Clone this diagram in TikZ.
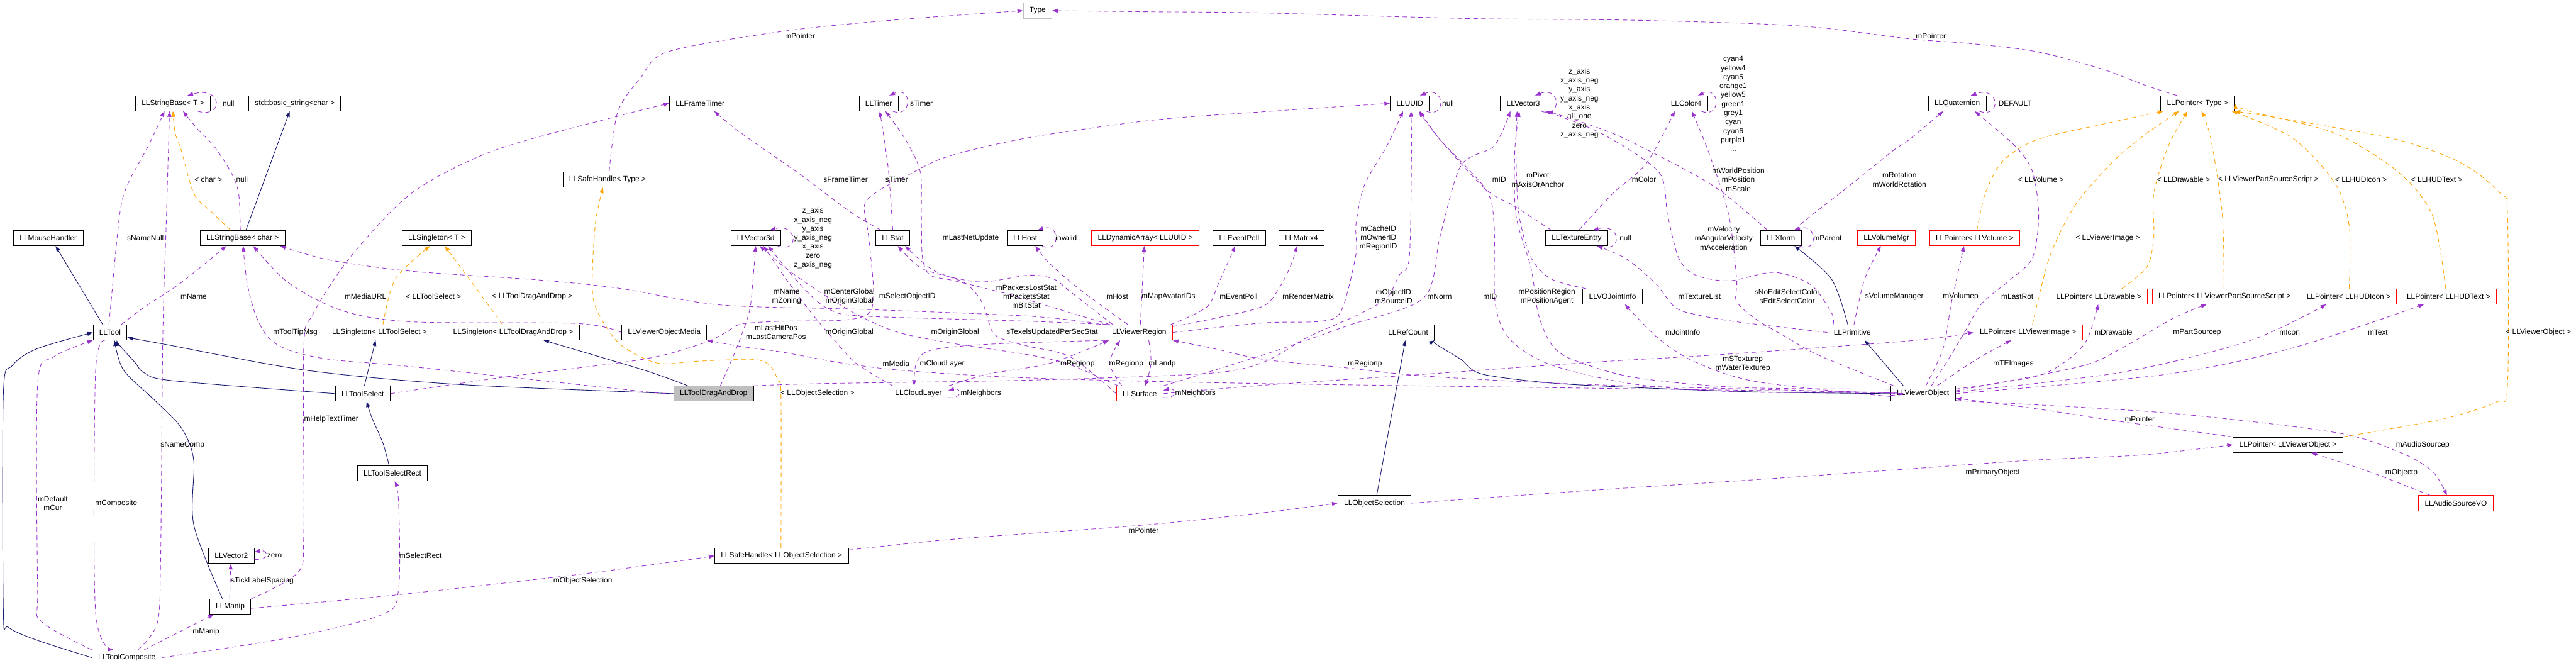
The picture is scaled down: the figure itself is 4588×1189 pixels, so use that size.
\documentclass[tikz,border=0pt]{standalone}
\usepackage{fontspec}
\setmainfont{Liberation Sans}
\usepackage{tikz}
\usetikzlibrary{arrows.meta}
\definecolor{UsePurple}{RGB}{154,50,205}
\definecolor{BaseNavy}{RGB}{25,25,112}
\definecolor{TmplOrange}{RGB}{255,165,0}
\definecolor{RedBox}{RGB}{255,0,0}
\definecolor{GreyBox}{RGB}{191,191,191}

\begin{document}
\begin{tikzpicture}[x=0.2mm,y=-0.2mm,>={Triangle[length=2mm,width=1.4mm]},every node/.style={font=\fontsize{7.6}{9.1}\selectfont}]
\tikzset{cls/.style={draw,fill=white,line width=0.2mm,minimum height=5.4mm,inner xsep=2.2mm,inner ysep=0pt},
redcls/.style={cls,draw=RedBox},
inh/.style={->,BaseNavy,line width=0.2mm},
use/.style={->,UsePurple,line width=0.2mm,dash pattern=on 1.6mm off 1.2mm},
tmpl/.style={->,TmplOrange,line width=0.2mm,dash pattern=on 1.6mm off 1.2mm},
lbl/.style={inner sep=0pt,align=center}}
\path[fill=white,use as bounding box] (0,0) rectangle (4588,1189);
\node[cls,draw=GreyBox] (type) at (1848,19) {Type};
\node[cls] (sbT) at (308,184) {LLStringBase< T >};
\node[cls] (bstr) at (525,184) {std::basic\_string<char >};
\node[cls] (ftimer) at (1247,184) {LLFrameTimer};
\node[cls] (timer) at (1565,184) {LLTimer};
\node[cls] (uuid) at (2511,184) {LLUUID};
\node[cls] (vec3) at (2713,184) {LLVector3};
\node[cls] (col4) at (3003,184) {LLColor4};
\node[cls] (quat) at (3486,184) {LLQuaternion};
\node[cls] (ptrT) at (3914,184) {LLPointer< Type >};
\node[cls] (shT) at (1082,320) {LLSafeHandle< Type >};
\node[cls] (mouse) at (86,424) {LLMouseHandler};
\node[cls] (sbc) at (432,424) {LLStringBase< char >};
\node[cls] (sgT) at (778,424) {LLSingleton< T >};
\node[cls] (vec3d) at (1346,424) {LLVector3d};
\node[cls] (stat) at (1590,424) {LLStat};
\node[cls] (host) at (1826,424) {LLHost};
\node[redcls] (dynarr) at (2040,424) {LLDynamicArray< LLUUID >};
\node[cls] (evpoll) at (2207,424) {LLEventPoll};
\node[cls] (mat4) at (2318,424) {LLMatrix4};
\node[cls] (texent) at (2808,424) {LLTextureEntry};
\node[cls] (xform) at (3172,424) {LLXform};
\node[redcls] (volmgr) at (3360,424) {LLVolumeMgr};
\node[redcls] (ptrVol) at (3517,424) {LLPointer< LLVolume >};
\node[cls] (joint) at (2872,528) {LLVOJointInfo};
\node[redcls] (ptrDraw) at (3738,528) {LLPointer< LLDrawable >};
\node[redcls] (ptrPSS) at (3962,528) {LLPointer< LLViewerPartSourceScript >};
\node[redcls] (ptrIcon) at (4183,528) {LLPointer< LLHUDIcon >};
\node[redcls] (ptrText) at (4361,528) {LLPointer< LLHUDText >};
\node[cls] (tool) at (196,592) {LLTool};
\node[cls] (sgSel) at (676,592) {LLSingleton< LLToolSelect >};
\node[cls] (sgDnD) at (914,592) {LLSingleton< LLToolDragAndDrop >};
\node[cls] (vomedia) at (1183,592) {LLViewerObjectMedia};
\node[redcls] (region) at (2029,592) {LLViewerRegion};
\node[cls] (refc) at (2508,592) {LLRefCount};
\node[cls] (prim) at (3299,592) {LLPrimitive};
\node[redcls] (ptrImg) at (3612,592) {LLPointer< LLViewerImage >};
\node[cls] (tsel) at (646,701) {LLToolSelect};
\node[cls,fill=GreyBox] (dnd) at (1271,701) {LLToolDragAndDrop};
\node[redcls] (cloud) at (1636,701) {LLCloudLayer};
\node[redcls] (surf) at (2030,701) {LLSurface};
\node[cls] (vobj) at (3425,701) {LLViewerObject};
\node[cls] (selrect) at (699,843) {LLToolSelectRect};
\node[cls] (ptrVO) at (4075,792) {LLPointer< LLViewerObject >};
\node[cls] (objsel) at (2448,896) {LLObjectSelection};
\node[redcls] (audio) at (4374,896) {LLAudioSourceVO};
\node[cls] (vec2) at (412,990) {LLVector2};
\node[cls] (shSel) at (1392,990) {LLSafeHandle< LLObjectSelection >};
\node[cls] (manip) at (410,1080) {LLManip};
\node[cls] (comp) at (226,1171) {LLToolComposite};
\draw[inh] (183,0 |- tool.north) -- (99,0 |- mouse.south);
\draw[inh] (438,0 |- sbc.north) -- (516,0 |- bstr.south);
\draw[inh] plot[smooth] coordinates {(tsel.west) (308,678) (257,664) (240,645) (213,615) (208,0 |- tool.south)};
\draw[inh] (649,0 |- tsel.north) -- (669,0 |- sgSel.south);
\draw[inh] plot[smooth] coordinates {(693,0 |- selrect.north) (682,789) (662,743) (653,0 |- tsel.south)};
\draw[inh] plot[smooth] coordinates {(dnd.west) (1150,699) (807,684) (543,659) (293,613) (tool.east |- 0,601)};
\draw[inh] plot[smooth] coordinates {(1225,0 |- dnd.north) (1150,660) (968,0 |- sgDnD.south)};
\draw[inh] plot[smooth] coordinates {(396,0 |- manip.north) (345,934) (345,819) (323,762) (279,716) (220,659) (204,0 |- tool.south)};
\draw[inh] plot[smooth] coordinates {(comp.west) (66,1140) (15,1117) (6,1087) (6,701) (22,651) (66,621) (tool.west)};
\draw[inh] (2452,0 |- objsel.north) -- (2503,0 |- refc.south);
\draw[inh] plot[smooth] coordinates {(vobj.west) (3130,698) (2910,690) (2763,682) (2639,666) (2602,640) (2558,613) (refc.south east)};
\draw[inh] (3390,0 |- vobj.north) -- (3321,0 |- prim.south);
\draw[inh] plot[smooth] coordinates {(3291,0 |- prim.north) (3262,497) (3196,0 |- xform.south)};
\draw[tmpl] plot[smooth] coordinates {(411,0 |- sbc.north) (374,375) (345,344) (323,268) (312,237) (308,0 |- sbT.south)};
\draw[tmpl] plot[smooth] coordinates {(682,0 |- sgSel.north) (704,497) (766,0 |- sgT.south)};
\draw[tmpl] plot[smooth] coordinates {(895,0 |- sgDnD.north) (836,497) (792,0 |- sgT.south)};
\draw[tmpl] plot[smooth] coordinates {(1391,0 |- shSel.north) (1391,705) (1386,678) (1371,651) (1342,640) (1247,643) (1173,647) (1115,621) (1085,590) (1056,528) (1060,402) (1074,0 |- shT.south)};
\draw[tmpl] plot[smooth] coordinates {(3521,0 |- ptrVol.north) (3536,344) (3567,287) (3627,249) (3741,222) (3853,0 |- ptrT.south)};
\draw[tmpl] plot[smooth] coordinates {(3620,0 |- ptrImg.north) (3650,459) (3695,367) (3764,287) (3824,237) (3881,0 |- ptrT.south)};
\draw[tmpl] plot[smooth] coordinates {(3779,0 |- ptrDraw.north) (3824,475) (3836,421) (3836,344) (3862,260) (3896,0 |- ptrT.south)};
\draw[tmpl] plot[smooth] coordinates {(3961,0 |- ptrPSS.north) (3958,383) (3938,249) (3921,0 |- ptrT.south)};
\draw[tmpl] plot[smooth] coordinates {(4184,0 |- ptrIcon.north) (4184,402) (4158,325) (4082,245) (3975,0 |- ptrT.south)};
\draw[tmpl] plot[smooth] coordinates {(4356,0 |- ptrText.north) (4332,383) (4271,306) (4158,237) (4006,198) (ptrT.east)};
\draw[tmpl] plot[smooth] coordinates {(ptrVO.north east) (4347,747) (4446,716) (4466,686) (4466,383) (4453,344) (4385,291) (4271,249) (4082,214) (ptrT.south east)};
\draw[use] plot[smooth] coordinates {(1085,0 |- shT.north) (1100,200) (1140,140) (1190,92) (1400,55) (1600,35) (type.west)};
\draw[use] plot[smooth] coordinates {(3877,0 |- ptrT.north) (3824,153) (3741,122) (3627,92) (3514,78) (3400,69) (3203,46) (2910,36) (2617,33) (2250,23) (2053,21) (type.east)};
\draw[use] (352,0 |- sbT.south) .. controls (398,212) and (398,152) .. (334,0 |- sbT.north);
\draw[use] plot[smooth] coordinates {(428,0 |- sbc.north) (425,344) (411,306) (381,260) (352,230) (326,0 |- sbT.south)};
\draw[use] plot[smooth] coordinates {(194,0 |- tool.north) (198,536) (213,383) (227,329) (264,260) (293,0 |- sbT.south)};
\draw[use] plot[smooth] coordinates {(246,0 |- comp.north) (280,1110) (286,1000) (290,600) (296,400) (302,0 |- sbT.south)};
\draw[use] plot[smooth] coordinates {(216,0 |- tool.north) (257,547) (323,503) (403,0 |- sbc.south)};
\draw[use] plot[smooth] coordinates {(dnd.west) (1144,697) (733,653) (587,640) (513,623) (477,600) (455,560) (440,503) (433,0 |- sbc.south)};
\draw[use] plot[smooth] coordinates {(vomedia.west) (1027,576) (733,573) (609,553) (513,503) (451,0 |- sbc.south)};
\draw[use] plot[smooth] coordinates {(1971,0 |- region.north) (1833,563) (1540,551) (1283,543) (1100,513) (953,498) (733,483) (587,463) (499,0 |- sbc.south)};
\draw[use] plot[smooth] coordinates {(manip.20) (530,1020) (541,950) (541,620) (557,560) (623,459) (733,344) (880,268) (1100,207) (ftimer.west)};
\draw[use] plot[smooth] coordinates {(1569,0 |- stat.north) (1511,375) (1430,314) (1320,237) (1272,0 |- ftimer.south)};
\draw[use] (1590,0 |- timer.south) .. controls (1625,212) and (1625,152) .. (1584,0 |- timer.north);
\draw[use] plot[smooth] coordinates {(1590,0 |- stat.north) (1582,300) (1567,0 |- timer.south)};
\draw[use] plot[smooth] coordinates {(1977,0 |- region.north) (1900,555) (1800,525) (1700,500) (1657,490) (1643,459) (1641,383) (1639,306) (1613,249) (1577,0 |- timer.south)};
\draw[use] plot[smooth] coordinates {(1982,0 |- region.north) (1907,520) (1877,497) (1833,490) (1745,502) (1657,484) (1628,468) (1599,0 |- stat.south)};
\draw[use] plot[smooth] coordinates {(surf.west) (1907,636) (1833,617) (1789,605) (1767,590) (1750,540) (1720,505) (1660,480) (1612,0 |- stat.south)};
\draw[use] (1385,0 |- vec3d.south) .. controls (1425,452) and (1420,396) .. (1371,0 |- vec3d.north);
\draw[use] plot[smooth] coordinates {(1283,0 |- dnd.north) (1313,617) (1335,553) (1342,487) (1346,0 |- vec3d.south)};
\draw[use] plot[smooth] coordinates {(1974,0 |- region.north) (1833,572) (1540,563) (1481,553) (1445,527) (1408,487) (1368,0 |- vec3d.south)};
\draw[use] plot[smooth] coordinates {(1590,0 |- cloud.north) (1525,647) (1481,600) (1437,547) (1393,487) (1360,0 |- vec3d.south)};
\draw[use] plot[smooth] coordinates {(surf.160) (1907,650) (1833,632) (1700,612) (1600,592) (1530,562) (1460,520) (1400,478) (1353,0 |- vec3d.south)};
\draw[use] (1856,0 |- host.south) .. controls (1890,452) and (1888,396) .. (1848,0 |- host.north);
\draw[use] plot[smooth] coordinates {(2009,0 |- region.north) (1929,520) (1870,470) (1844,0 |- host.south)};
\draw[use] plot[smooth] coordinates {(2031,0 |- region.north) (2035,500) (2038,0 |- dynarr.south)};
\draw[use] plot[smooth] coordinates {(2085,0 |- region.north) (2149,547) (2171,503) (2200,0 |- evpoll.south)};
\draw[use] plot[smooth] coordinates {(region.10) (2163,567) (2250,545) (2280,510) (2300,470) (2310,0 |- mat4.south)};
\draw[use] (2540,0 |- uuid.south) .. controls (2576,212) and (2574,152) .. (2529,0 |- uuid.north);
\draw[use] plot[smooth] coordinates {(tsel.east) (895,672) (1144,640) (1250,612) (1291,593) (1320,577) (1393,572) (1503,570) (1547,558) (1556,520) (1547,421) (1540,364) (1569,337) (1613,314) (1687,279) (1833,245) (2053,214) (2250,199) (uuid.west)};
\draw[use] plot[smooth] coordinates {(region.east) (2250,575) (2353,572) (2389,553) (2415,453) (2415,400) (2430,330) (2470,260) (2499,0 |- uuid.south)};
\draw[use] plot[smooth] coordinates {(dnd.north east) (1467,683) (1833,677) (2150,665) (2250,645) (2330,600) (2420,560) (2470,530) (2492,490) (2510,459) (2514,268) (2513,0 |- uuid.south)};
\draw[use] plot[smooth] coordinates {(2763,0 |- texent.north) (2697,367) (2646,337) (2565,249) (2529,0 |- uuid.south)};
\draw[use] plot[smooth] coordinates {(vobj.178) (3100,698) (2910,684) (2763,650) (2690,605) (2663,540) (2661,400) (2646,337) (2565,249) (2527,0 |- uuid.south)};
\draw[use] (2745,0 |- vec3.south) .. controls (2782,212) and (2780,152) .. (2734,0 |- vec3.north);
\draw[use] plot[smooth] coordinates {(2825,0 |- joint.north) (2763,497) (2727,459) (2705,380) (2700,268) (2702,0 |- vec3.south)};
\draw[use] plot[smooth] coordinates {(vobj.172) (3100,690) (2910,672) (2800,640) (2763,613) (2740,560) (2727,478) (2700,383) (2698,268) (2706,0 |- vec3.south)};
\draw[use] plot[smooth] coordinates {(3148,0 |- xform.north) (3050,330) (2900,250) (2830,222) (2756,0 |- vec3.south)};
\draw[use] plot[smooth] coordinates {(3265,0 |- prim.north) (3262,557) (3225,507) (3160,485) (3080,500) (3020,490) (2990,460) (2970,383) (2954,306) (2851,237) (2752,0 |- vec3.south)};
\draw[use] plot[smooth] coordinates {(surf.north east) (2250,632) (2400,580) (2536,530) (2565,420) (2602,295) (2661,260) (2690,0 |- vec3.south)};
\draw[use] (3030,0 |- col4.south) .. controls (3066,212) and (3064,152) .. (3024,0 |- col4.north);
\draw[use] plot[smooth] coordinates {(2812,0 |- texent.north) (2873,344) (2932,291) (2983,0 |- col4.south)};
\draw[use] plot[smooth] coordinates {(vobj.165) (3240,633) (3181,600) (3130,570) (3093,537) (3093,497) (3079,383) (3042,268) (3013,0 |- col4.south)};
\draw[use] (2851,0 |- texent.south) .. controls (2890,452) and (2888,396) .. (2837,0 |- texent.north);
\draw[use] plot[smooth] coordinates {(prim.west) (3093,573) (3020,560) (2983,547) (2947,503) (2895,460) (2844,0 |- texent.south)};
\draw[use] (3205,0 |- xform.south) .. controls (3240,452) and (3236,396) .. (3196,0 |- xform.north);
\draw[use] (3525,0 |- quat.south) .. controls (3565,212) and (3562,152) .. (3510,0 |- quat.north);
\draw[use] plot[smooth] coordinates {(3196,0 |- xform.north) (3218,390) (3291,333) (3372,268) (3400,249) (3461,0 |- quat.south)};
\draw[use] plot[smooth] coordinates {(3440,0 |- vobj.north) (3470,640) (3500,590) (3530,540) (3582,497) (3620,459) (3631,383) (3620,306) (3589,260) (3517,0 |- quat.south)};
\draw[use] plot[smooth] coordinates {(3302,0 |- prim.north) (3321,497) (3350,0 |- volmgr.south)};
\draw[use] plot[smooth] coordinates {(3430,0 |- vobj.north) (3461,620) (3476,537) (3498,0 |- ptrVol.south)};
\draw[use] plot[smooth] coordinates {(3450,0 |- vobj.north) (3520,640) (3582,0 |- ptrImg.south)};
\draw[use] plot[smooth] coordinates {(surf.east) (2250,686) (2543,666) (2837,645) (3057,632) (3400,607) (ptrImg.west)};
\draw[use] plot[smooth] coordinates {(vobj.185) (3130,680) (3020,645) (2954,603) (2894,0 |- joint.south)};
\draw[use] plot[smooth] coordinates {(vobj.8) (3627,670) (3688,637) (3718,603) (3737,0 |- ptrDraw.south)};
\draw[use] plot[smooth] coordinates {(vobj.5) (3703,653) (3779,620) (3870,567) (3930,0 |- ptrPSS.south)};
\draw[use] plot[smooth] coordinates {(vobj.3) (3779,663) (4006,607) (4143,0 |- ptrIcon.south)};
\draw[use] plot[smooth] coordinates {(vobj.0) (3855,667) (4082,620) (4317,0 |- ptrText.south)};
\draw[use] plot[smooth] coordinates {(ptrVO.north west) (3779,751) (3627,728) (vobj.-8)};
\draw[use] plot[smooth] coordinates {(vobj.-12) (3855,735) (4158,770) (4271,804) (4332,839) (4358,0 |- audio.north)};
\draw[use] plot[smooth] coordinates {(4328,0 |- audio.north) (4220,840) (4116,0 |- ptrVO.south)};
\draw[use] plot[smooth] coordinates {(objsel.east) (2837,873) (3130,854) (3400,835) (3627,819) (3817,810) (ptrVO.west)};
\draw[use] plot[smooth] coordinates {(shSel.5) (1700,960) (2037,935) (2250,913) (objsel.west)};
\draw[use] plot[smooth] coordinates {(manip.-5) (700,1060) (1038,1022) (shSel.west)};
\draw[use] plot[smooth] coordinates {(comp.north west) (73,1106) (67,1048) (67,685) (95,636) (tool.south west)};
\draw[use] plot[smooth] coordinates {(187,0 |- tool.south) (170,666) (170,1087) (202,0 |- comp.north)};
\draw[use] (257,0 |- comp.north) -- (381,0 |- manip.south);
\draw[use] plot[smooth] coordinates {(comp.east) (513,1136) (682,1094) (710,1048) (710,896) (703,0 |- selrect.south)};
\draw[use] (409,0 |- manip.north) -- (411,0 |- vec2.south);
\draw[use] (vec2.east |- 0,996) .. controls (480,1000) and (480,978) .. (vec2.east |- 0,983);
\draw[use] plot[smooth] coordinates {(region.south west) (1760,613) (1657,624) (1632,647) (1628,0 |- cloud.north)};
\draw[use] plot[smooth] coordinates {(1690,0 |- cloud.north) (1760,666) (1870,647) (1975,0 |- region.south)};
\draw[use] (cloud.east |- 0,708) .. controls (1714,711) and (1714,690) .. (cloud.east |- 0,695);
\draw[use] plot[smooth] coordinates {(1998,0 |- surf.north) (1976,647) (1995,0 |- region.south)};
\draw[use] plot[smooth] coordinates {(2046,0 |- region.south) (2050,647) (2040,0 |- surf.north)};
\draw[use] (surf.east |- 0,708) .. controls (2097,711) and (2097,690) .. (surf.east |- 0,695);
\draw[use] plot[smooth] coordinates {(vobj.west) (3350,699) (2837,685) (2543,670) (2397,655) (2250,640) (2163,621) (region.south east)};
\draw[use] plot[smooth] coordinates {(vobj.183) (3300,698) (2250,683) (1833,673) (1613,660) (1503,647) (1393,627) (1320,617) (vomedia.south east)};
\node[lbl] (l1) at (407,184) {null};
\node[lbl] (l2) at (371,320) {< char >};
\node[lbl] (l3) at (431,320) {null};
\node[lbl] (l4) at (259,424) {sNameNull};
\node[lbl] (l5) at (345,528) {mName};
\node[lbl] (l6) at (651,528) {mMediaURL};
\node[lbl] (l7) at (772,528) {< LLToolSelect >};
\node[lbl] (l8) at (948,528) {< LLToolDragAndDrop >};
\node[lbl] (l9) at (526,592) {mToolTipMsg};
\node[lbl] (l10) at (1425,64) {mPointer};
\node[lbl] (l11) at (1641,184) {sTimer};
\node[lbl] (l12) at (1506,320) {sFrameTimer};
\node[lbl] (l13) at (1597,320) {sTimer};
\node[lbl] (l14) at (1448,424) {z\_axis\\x\_axis\_neg\\y\_axis\\y\_axis\_neg\\x\_axis\\zero\\z\_axis\_neg};
\node[lbl] (l15) at (1729,424) {mLastNetUpdate};
\node[lbl] (l16) at (1899,424) {invalid};
\node[lbl] (l17) at (1401,528) {mName\\mZoning};
\node[lbl] (l18) at (1513,528) {mCenterGlobal\\mOriginGlobal};
\node[lbl] (l19) at (1616,528) {mSelectObjectID};
\node[lbl] (l20) at (1828,528) {mPacketsLostStat\\mPacketsStat\\mBitStat};
\node[lbl] (l21) at (1990,528) {mHost};
\node[lbl] (l22) at (2081,528) {mMapAvatarIDs};
\node[lbl] (l23) at (2206,528) {mEventPoll};
\node[lbl] (l24) at (1382,592) {mLastHitPos\\mLastCameraPos};
\node[lbl] (l25) at (1513,592) {mOriginGlobal};
\node[lbl] (l26) at (1701,592) {mOriginGlobal};
\node[lbl] (l27) at (1874,592) {sTexelsUpdatedPerSecStat};
\node[lbl] (l28) at (2579,184) {null};
\node[lbl] (l29) at (2813,184) {z\_axis\\x\_axis\_neg\\y\_axis\\y\_axis\_neg\\x\_axis\\all\_one\\zero\\z\_axis\_neg};
\node[lbl] (l30) at (3087,185) {cyan4\\yellow4\\cyan5\\orange1\\yellow5\\green1\\grey1\\cyan\\cyan6\\purple1\\...};
\node[lbl] (l31) at (2670,320) {mID};
\node[lbl] (l32) at (2739,320) {mPivot\\mAxisOrAnchor};
\node[lbl] (l33) at (2928,320) {mColor};
\node[lbl] (l34) at (3096,320) {mWorldPosition\\mPosition\\mScale};
\node[lbl] (l35) at (3383,320) {mRotation\\mWorldRotation};
\node[lbl] (l36) at (2455,424) {mCacheID\\mOwnerID\\mRegionID};
\node[lbl] (l37) at (2895,424) {null};
\node[lbl] (l38) at (3070,424) {mVelocity\\mAngularVelocity\\mAcceleration};
\node[lbl] (l39) at (3255,424) {mParent};
\node[lbl] (l40) at (2330,528) {mRenderMatrix};
\node[lbl] (l41) at (2482,528) {mObjectID\\mSourceID};
\node[lbl] (l42) at (2564,528) {mNorm};
\node[lbl] (l43) at (2654,528) {mID};
\node[lbl] (l44) at (2755,528) {mPositionRegion\\mPositionAgent};
\node[lbl] (l45) at (3027,528) {mTextureList};
\node[lbl] (l46) at (3183,528) {sNoEditSelectColor\\sEditSelectColor};
\node[lbl] (l47) at (3374,528) {sVolumeManager};
\node[lbl] (l48) at (2997,592) {mJointInfo};
\node[lbl] (l49) at (3439,64) {mPointer};
\node[lbl] (l50) at (3589,184) {DEFAULT};
\node[lbl] (l51) at (3635,320) {< LLVolume >};
\node[lbl] (l52) at (3889,320) {< LLDrawable >};
\node[lbl] (l53) at (4040,320) {< LLViewerPartSourceScript >};
\node[lbl] (l54) at (4205,320) {< LLHUDIcon >};
\node[lbl] (l55) at (4340,320) {< LLHUDText >};
\node[lbl] (l56) at (3754,424) {< LLViewerImage >};
\node[lbl] (l57) at (3492,528) {mVolumep};
\node[lbl] (l58) at (3593,528) {mLastRot};
\node[lbl] (l59) at (3764,592) {mDrawable};
\node[lbl] (l60) at (3913,592) {mPartSourcep};
\node[lbl] (l61) at (4078,592) {mIcon};
\node[lbl] (l62) at (4235,592) {mText};
\node[lbl] (l63) at (4521,592) {< LLViewerObject >};
\node[lbl] (l64) at (590,746) {mHelpTextTimer};
\node[lbl] (l65) at (325,792) {sNameComp};
\node[lbl] (l66) at (94,896) {mDefault\\mCur};
\node[lbl] (l67) at (207,896) {mComposite};
\node[lbl] (l68) at (489,989) {zero};
\node[lbl] (l69) at (749,989) {mSelectRect};
\node[lbl] (l70) at (467,1034) {sTickLabelSpacing};
\node[lbl] (l71) at (1038,1034) {mObjectSelection};
\node[lbl] (l72) at (367,1125) {mManip};
\node[lbl] (l73) at (1596,648) {mMedia};
\node[lbl] (l74) at (1678,648) {mCloudLayer};
\node[lbl] (l75) at (1919,648) {mRegionp};
\node[lbl] (l76) at (2006,648) {mRegionp};
\node[lbl] (l77) at (2070,648) {mLandp};
\node[lbl] (l78) at (1456,701) {< LLObjectSelection >};
\node[lbl] (l79) at (1747,701) {mNeighbors};
\node[lbl] (l80) at (2129,701) {mNeighbors};
\node[lbl] (l81) at (2037,944) {mPointer};
\node[lbl] (l82) at (2431,648) {mRegionp};
\node[lbl] (l83) at (3104,648) {mSTexturep\\mWaterTexturep};
\node[lbl] (l84) at (3586,648) {mTEImages};
\node[lbl] (l85) at (3811,746) {mPointer};
\node[lbl] (l86) at (4315,792) {mAudioSourcep};
\node[lbl] (l87) at (3549,842) {mPrimaryObject};
\node[lbl] (l88) at (4277,842) {mObjectp};
\end{tikzpicture}
\end{document}
